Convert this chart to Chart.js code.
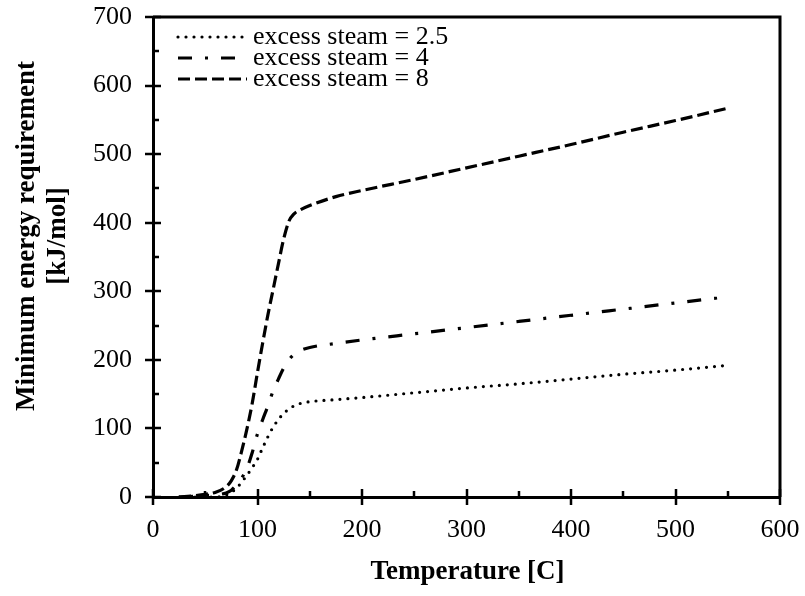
<!DOCTYPE html>
<html>
<head>
<meta charset="utf-8">
<script src="https://cdn.jsdelivr.net/npm/chart.js"></script>
<style>
  html, body { margin: 0; padding: 0; background: #fff; }
  #wrap { width: 805px; height: 596px; }
</style>
</head>
<body>
<div id="wrap"><canvas id="energyChart" width="805" height="596"></canvas></div>
<script>
// Data
const temperatures = [25, 40, 50, 60, 70, 75, 80, 85, 90, 95, 100, 105, 110, 115, 120, 125, 130, 135, 140, 150, 175, 200, 250, 300, 350, 400, 450, 500, 550];

const steam25 = [0, 0, 0, 0, 3, 7, 13, 22, 32, 43, 55, 72, 88, 102, 113, 122, 128, 133, 136, 139, 142, 145, 152, 159, 165, 172, 179, 185, 192];
const steam4 = [0, 1, 2, 3, 6, 10, 18, 28, 42, 65, 92, 113, 133, 155, 172, 188, 200, 208, 213, 218, 224, 229, 238, 247, 256, 265, 274, 283, 292];
const steam8 = [0, 2, 4, 7, 15, 24, 40, 68, 100, 137, 182, 225, 266, 303, 340, 376, 402, 413, 418, 425, 438, 447, 463, 480, 497, 514, 532, 549, 567];

const seriesLabels = ['excess steam = 2.5', 'excess steam = 4', 'excess steam = 8'];

const xTicks = [0, 100, 200, 300, 400, 500, 600];
const yTicks = [0, 100, 200, 300, 400, 500, 600, 700];

const FONT = "'Liberation Serif', 'Times New Roman', serif";

function toPoints(values) {
    return temperatures.map((t, i) => ({ x: t, y: values[i] }));
}

// keep chart area fixed: no extra room for overhanging tick labels
function fixPadding(s) {
    s.paddingTop = 0;
    s.paddingBottom = 0;
    s.paddingLeft = 0;
    s.paddingRight = 0;
}

// Frame, crossing major ticks and inner minor ticks
const axisDecor = {
    id: 'axisDecor',
    afterDraw(chart) {
        const { ctx, chartArea: a, scales: { x, y } } = chart;
        ctx.save();
        ctx.strokeStyle = '#000';
        ctx.lineWidth = 3;
        ctx.beginPath();
        ctx.moveTo(a.left, a.top);
        ctx.lineTo(a.right, a.top);
        ctx.lineTo(a.right, a.bottom);
        ctx.stroke();

        ctx.lineWidth = 2.5;
        ctx.beginPath();
        for (let v = x.min; v <= x.max; v += 50) {
            const px = Math.round(x.getPixelForValue(v));
            const major = v % 100 === 0;
            ctx.moveTo(px, a.bottom + (major ? 8 : 0));
            ctx.lineTo(px, a.bottom - (major ? 8 : 6));
        }
        for (let v = y.min; v <= y.max; v += 50) {
            const py = Math.round(y.getPixelForValue(v));
            const major = v % 100 === 0;
            ctx.moveTo(a.left - (major ? 8 : 0), py);
            ctx.lineTo(a.left + (major ? 8 : 6), py);
        }
        ctx.stroke();

        // axis titles
        ctx.fillStyle = '#000';
        ctx.font = 'bold 27px ' + FONT;
        ctx.textAlign = 'center';
        ctx.textBaseline = 'alphabetic';
        ctx.fillText('Temperature [C]', (a.left + a.right) / 2 + 1, 579);

        ctx.save();
        ctx.translate(34, 236);
        ctx.rotate(-Math.PI / 2);
        ctx.fillText('Minimum energy requirement', 0, 0);
        ctx.restore();
        ctx.save();
        ctx.translate(65, 236);
        ctx.rotate(-Math.PI / 2);
        ctx.fillText('[kJ/mol]', 0, 0);
        ctx.restore();
        ctx.restore();
    }
};

// Legend drawn tight in the upper-left corner, like the original
const insetLegend = {
    id: 'insetLegend',
    afterDraw(chart) {
        const { ctx } = chart;
        ctx.save();
        chart.data.datasets.forEach((ds, i) => {
            const rowY = 37 + i * 21;
            ctx.beginPath();
            ctx.strokeStyle = ds.borderColor;
            ctx.lineWidth = ds.borderWidth;
            ctx.lineCap = ds.borderCapStyle;
            ctx.setLineDash(ds.borderDash);
            ctx.moveTo(178, rowY);
            ctx.lineTo(247, rowY);
            ctx.stroke();
            ctx.setLineDash([]);
            ctx.fillStyle = '#000';
            ctx.font = '26px ' + FONT;
            ctx.textAlign = 'left';
            ctx.textBaseline = 'alphabetic';
            ctx.fillText(ds.label, 253, rowY + 6.5);
        });
        ctx.restore();
    }
};

const ctx = document.getElementById('energyChart').getContext('2d');

new Chart(ctx, {
    type: 'line',
    data: {
        datasets: [
            {
                label: seriesLabels[0],
                data: toPoints(steam25),
                borderColor: '#000',
                borderWidth: 3.2,
                borderDash: [0, 8],
                borderCapStyle: 'round',
                pointRadius: 0,
                cubicInterpolationMode: 'monotone',
                fill: false
            },
            {
                label: seriesLabels[1],
                data: toPoints(steam4),
                borderColor: '#000',
                borderWidth: 3.2,
                borderDash: [14, 13, 3, 13],
                borderCapStyle: 'butt',
                pointRadius: 0,
                cubicInterpolationMode: 'monotone',
                fill: false
            },
            {
                label: seriesLabels[2],
                data: toPoints(steam8),
                borderColor: '#000',
                borderWidth: 3.2,
                borderDash: [12, 5],
                borderCapStyle: 'butt',
                pointRadius: 0,
                cubicInterpolationMode: 'monotone',
                fill: false
            }
        ]
    },
    options: {
        responsive: false,
        animation: false,
        devicePixelRatio: 1,
        layout: { padding: { top: 17, right: 25, left: 0, bottom: 0 } },
        plugins: {
            legend: { display: false },
            tooltip: { enabled: false }
        },
        scales: {
            x: {
                type: 'linear',
                min: 0,
                max: 600,
                afterBuildTicks: s => { s.ticks = xTicks.map(v => ({ value: v })); },
                afterFit: s => { s.height = 99; fixPadding(s); },
                grid: { display: false, drawTicks: false },
                border: { display: true, color: '#000', width: 3 },
                ticks: { color: '#000', font: { family: FONT, size: 26 }, padding: 18, maxRotation: 0 }
            },
            y: {
                type: 'linear',
                min: 0,
                max: 700,
                afterBuildTicks: s => { s.ticks = yTicks.map(v => ({ value: v })); },
                afterFit: s => { s.width = 153; fixPadding(s); },
                grid: { display: false, drawTicks: false },
                border: { display: true, color: '#000', width: 3 },
                ticks: { color: '#000', font: { family: FONT, size: 26 }, padding: 21 }
            }
        }
    },
    plugins: [axisDecor, insetLegend]
});
</script>
</body>
</html>
